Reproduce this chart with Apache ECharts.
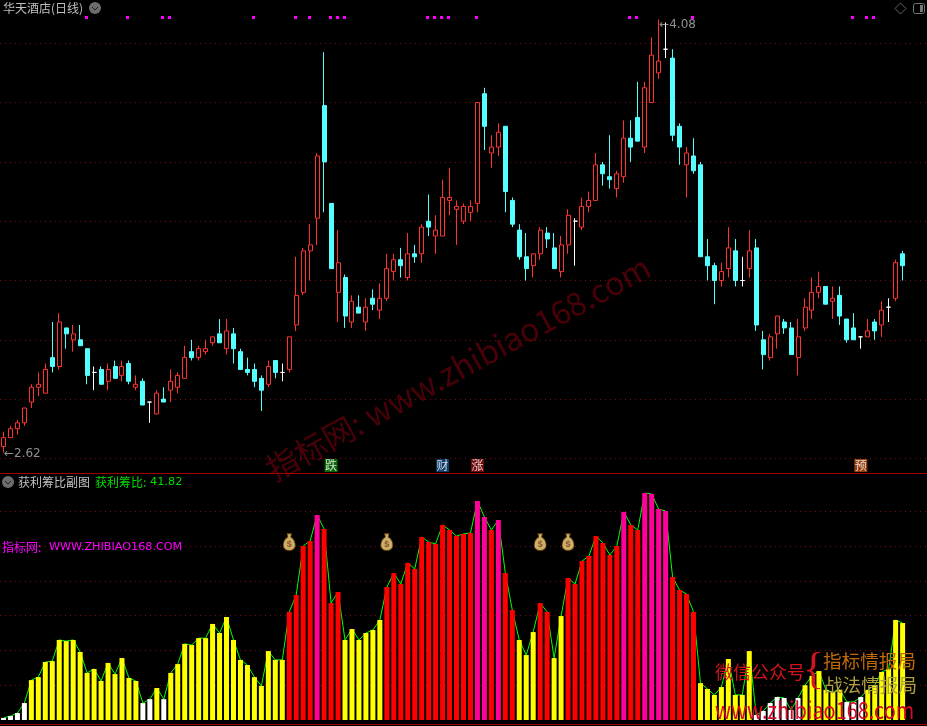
<!DOCTYPE html>
<html>
<head>
<meta charset="utf-8">
<title>华天酒店(日线)</title>
<script src="https://cdn.jsdelivr.net/npm/echarts@6/dist/echarts.min.js"></script>
<style>
    html, body {margin: 0; padding: 0; background: #000;}
    #chart {width: 927px; height: 726px;}
</style>
</head>
<body>
<div id="chart"></div>
<script>
// open, close, low, high
var candles = [
    [2.64,2.67,2.62,2.69],[2.67,2.70,2.67,2.71],[2.70,2.72,2.68,2.73],[2.72,2.77,2.71,2.77],[2.79,2.84,2.77,2.85],
    [2.84,2.85,2.81,2.89],[2.82,2.90,2.82,2.92],[2.94,2.91,2.89,3.06],[2.91,3.06,2.90,3.09],[3.04,3.02,2.97,3.04],
    [3.00,3.02,2.96,3.05],[3.00,2.98,2.98,3.05],[2.97,2.88,2.85,2.97],[2.89,2.89,2.83,2.91],[2.90,2.85,2.85,2.91],
    [2.86,2.90,2.83,2.92],[2.91,2.87,2.87,2.93],[2.88,2.91,2.86,2.93],[2.92,2.86,2.85,2.93],[2.84,2.85,2.83,2.88],
    [2.86,2.78,2.78,2.87],[2.79,2.79,2.72,2.79],[2.75,2.82,2.75,2.83],[2.80,2.79,2.79,2.84],[2.83,2.86,2.79,2.90],
    [2.84,2.88,2.82,2.89],[2.87,2.94,2.87,2.98],[2.96,2.94,2.93,3.00],[2.94,2.97,2.93,2.98],[2.96,2.97,2.95,3.00],
    [2.99,3.01,2.98,3.01],[3.02,2.99,2.99,3.07],[2.97,3.03,2.95,3.07],[3.02,2.97,2.92,3.04],[2.96,2.90,2.90,2.97],
    [2.90,2.89,2.88,2.94],[2.90,2.86,2.84,2.92],[2.87,2.83,2.76,2.88],[2.85,2.91,2.84,2.93],[2.93,2.89,2.87,2.93],
    [2.89,2.89,2.86,2.92],[2.90,3.01,2.89,3.01],[3.05,3.15,3.03,3.28],[3.16,3.30,3.15,3.31],[3.30,3.32,3.20,3.39],
    [3.41,3.62,3.32,3.63],[3.79,3.60,3.43,3.97],[3.46,3.24,3.24,3.46],[3.16,3.26,3.06,3.37],[3.21,3.08,3.04,3.22],
    [3.06,3.13,3.04,3.15],[3.11,3.09,3.09,3.15],[3.06,3.11,3.03,3.14],[3.14,3.12,3.10,3.17],[3.10,3.14,3.07,3.19],
    [3.14,3.24,3.13,3.29],[3.23,3.27,3.20,3.29],[3.27,3.25,3.21,3.31],[3.21,3.29,3.20,3.36],[3.29,3.28,3.26,3.32],
    [3.29,3.38,3.26,3.39],[3.40,3.38,3.35,3.49],[3.35,3.37,3.29,3.42],[3.35,3.48,3.35,3.54],[3.47,3.48,3.42,3.58],
    [3.44,3.45,3.32,3.47],[3.40,3.45,3.39,3.46],[3.43,3.45,3.40,3.47],[3.46,3.80,3.43,3.80],[3.83,3.72,3.64,3.85],
    [3.63,3.65,3.58,3.69],[3.65,3.70,3.62,3.73],[3.72,3.50,3.43,3.72],[3.47,3.39,3.38,3.48],[3.37,3.28,3.27,3.39],
    [3.28,3.24,3.20,3.36],[3.25,3.29,3.21,3.29],[3.29,3.37,3.27,3.38],[3.36,3.34,3.31,3.38],[3.31,3.24,3.24,3.36],
    [3.23,3.32,3.21,3.35],[3.32,3.42,3.29,3.44],[3.40,3.40,3.25,3.41],[3.38,3.45,3.37,3.48],[3.45,3.47,3.43,3.50],
    [3.47,3.59,3.47,3.63],[3.59,3.56,3.52,3.60],[3.55,3.54,3.51,3.69],[3.51,3.56,3.48,3.57],[3.55,3.68,3.53,3.74],
    [3.68,3.65,3.60,3.74],[3.75,3.67,3.67,3.87],[3.65,3.85,3.63,3.87],[3.80,3.96,3.80,4.02],[3.90,3.94,3.88,4.08],
    [3.98,3.98,3.95,4.07],[3.95,3.69,3.67,3.98],[3.72,3.65,3.59,3.73],[3.59,3.63,3.48,3.65],[3.62,3.57,3.56,3.68],
    [3.59,3.28,3.28,3.60],[3.28,3.25,3.20,3.34],[3.25,3.20,3.12,3.26],[3.20,3.23,3.18,3.26],[3.24,3.31,3.21,3.38],
    [3.30,3.20,3.18,3.34],[3.20,3.20,3.18,3.28],[3.24,3.30,3.21,3.37],[3.31,3.05,3.03,3.34],[3.00,2.95,2.90,3.03],
    [2.94,3.01,2.93,3.02],[3.02,3.08,2.97,3.08],[3.06,3.04,3.02,3.07],[3.04,2.95,2.95,3.06],[2.94,3.01,2.88,3.07],
    [3.04,3.11,3.03,3.14],[3.10,3.16,3.07,3.21],[3.16,3.18,3.14,3.23],[3.18,3.12,3.12,3.18],[3.13,3.14,3.07,3.18],
    [3.15,3.08,3.05,3.18],[3.07,3.00,2.99,3.07],[3.04,3.00,3.00,3.09],[3.01,3.01,2.97,3.01],[3.01,3.03,3.01,3.07],
    [3.06,3.03,3.00,3.07],[3.05,3.10,3.01,3.13],[3.11,3.11,3.06,3.14],[3.14,3.26,3.13,3.27],[3.29,3.25,3.20,3.30]
];
var profitRatio = [
    0.9,1.7,3.0,7.3,17.2,18.5,25.0,25.4,34.5,34.0,
    34.5,29.3,20.3,22.0,16.8,24.6,19.8,26.7,18.1,16.8,
    7.3,9.0,13.8,9.0,20.3,24.1,32.8,32.3,35.3,35.3,
    41.4,37.5,44.4,34.5,25.9,23.7,18.5,14.7,29.7,25.9,
    25.9,46.6,53.9,75.0,77.2,88.4,82.3,50.4,55.2,34.5,
    39.2,34.5,37.5,38.8,43.1,57.3,63.4,58.6,67.7,65.1,
    78.9,76.7,75.9,84.1,81.9,79.3,80.2,80.6,94.4,87.5,
    81.9,86.2,63.4,47.4,34.5,28.0,37.9,50.4,46.6,26.7,
    44.8,61.2,58.6,68.5,70.7,79.3,76.3,71.1,75.0,89.7,
    84.1,81.9,97.8,97.4,90.9,90.1,61.6,56.0,54.3,46.6,
    15.9,13.4,10.8,14.2,26.3,10.8,10.8,29.7,2.2,3.9,
    7.3,9.9,9.5,4.3,9.5,15.0,19.0,21.1,13.0,12.0,
    13.0,7.8,7.8,9.9,13.0,15.0,20.7,22.0,43.1,41.82
];
var topDotIndex = [12,18,23,24,36,42,44,47,48,49,61,62,63,64,68,90,91,99,122,124,125];
var topDotPrice = 4.088;
var signalIndex = [47,63,68,123];
var signalText = ['跌','财','涨','预'];
var signalColor = ['#0a800a','#124a80','#8c0c0c','#b84c12'];
var signalPrice = 2.576;
var bagIndex = [41,55,77,81];
var bagLevel = 76.7;
var extremeIndex = [94,0];
var extremePrice = [4.08,2.62];
var priceTicks = {min: 2.4, max: 4.146, interval: 0.2};
var ratioTicks = {min: 0, max: 105, interval: 15};

var bandCount = 133;
var categories = [];
for (var i = 0; i < bandCount; i++) {
    categories.push(String(i));
}

function barColor(v) {
    if (v < 10) return '#ffffff';
    if (v < 45) return '#ffff00';
    if (v < 85) return '#ff0000';
    return '#ff0099';
}

var gridDots = {color: '#7d0b0b', type: [1, 4], width: 1};
var cjk = '"Noto Sans CJK SC", sans-serif';
var bagPath = 'path://M5 0 L11 0 L10 4 C14 6 16 10 16 14 C16 18 12 20 8 20 C4 20 0 18 0 14 C0 10 2 6 6 4 Z';

function chevron(cx, cy) {
    return [
        {type: 'circle', shape: {cx: cx, cy: cy, r: 6}, style: {fill: '#6c6c6c'}, z: 20},
        {type: 'polyline', shape: {points: [[cx - 3, cy - 1], [cx, cy + 2], [cx + 3, cy - 1]]}, style: {stroke: '#222', fill: null, lineWidth: 1}, z: 21}
    ];
}

function label(text, x, y, color, font, extra) {
    var el = {type: 'text', x: x, y: y, style: {text: text, fill: color, font: font, textVerticalAlign: 'middle'}, z: 30};
    for (var k in extra) el[k] = extra[k];
    return el;
}

// square signal dots snapped to whole pixels so they stay pure magenta
function renderTopDot(params, api) {
    var pt = api.coord([api.value(0), api.value(1)]);
    return {
        type: 'rect',
        shape: {x: Math.floor(pt[0] - 2), y: Math.round(pt[1] - 1.5), width: 3, height: 3},
        style: {fill: '#ff00ff'}
    };
}

var chart = echarts.init(document.getElementById('chart'));
chart.setOption({
    animation: false,
    backgroundColor: '#000',
    grid: [
        {left: 0, top: 0, width: 928, height: 517.7},
        {left: 0, top: 476.4, width: 928, height: 243.6}
    ],
    xAxis: [
        {type: 'category', gridIndex: 0, data: categories, boundaryGap: true, axisLine: {show: false}, axisTick: {show: false}, axisLabel: {show: false}, splitLine: {show: false}},
        {type: 'category', gridIndex: 1, data: categories, boundaryGap: true, axisLine: {show: false}, axisTick: {show: false}, axisLabel: {show: false}, splitLine: {show: false}}
    ],
    yAxis: [
        {type: 'value', gridIndex: 0, min: priceTicks.min, max: priceTicks.max, interval: priceTicks.interval, axisLine: {show: false}, axisTick: {show: false}, axisLabel: {show: false},
            splitLine: {show: true, showMinLine: false, showMaxLine: false, lineStyle: gridDots}},
        {type: 'value', gridIndex: 1, min: ratioTicks.min, max: ratioTicks.max, interval: ratioTicks.interval, axisLine: {show: false}, axisTick: {show: false}, axisLabel: {show: false},
            splitLine: {show: true, showMinLine: false, showMaxLine: false, lineStyle: gridDots}}
    ],
    series: [
        {
            // 4.5 keeps every body 5px wide after the pixel snapping
            type: 'candlestick', xAxisIndex: 0, yAxisIndex: 0, data: candles, barWidth: 4.5, clip: false, z: 3,
            itemStyle: {color: '#000', color0: '#54ffff', borderColor: '#ff3232', borderColor0: '#54ffff', borderColorDoji: '#ffffff', borderWidth: 1}
        },
        {
            type: 'scatter', xAxisIndex: 0, yAxisIndex: 0, symbolSize: 1, z: 4,
            itemStyle: {color: 'transparent'},
            label: {show: true, position: 'right', distance: 0, color: '#b4b4b4', fontSize: 12, fontFamily: 'DejaVu Sans', formatter: function (p) { return '←' + p.value[1].toFixed(2); }},
            data: extremeIndex.map(function (i, k) {
                return {value: [categories[i], extremePrice[k]], label: {offset: [0, k == 0 ? 5 : 1]}};
            })
        },
        {
            type: 'custom', xAxisIndex: 0, yAxisIndex: 0, z: 4, renderItem: renderTopDot,
            encode: {x: 0, y: 1},
            data: topDotIndex.map(function (i) { return [i, topDotPrice]; })
        },
        {
            type: 'scatter', xAxisIndex: 0, yAxisIndex: 0, symbol: 'rect', symbolSize: 13, z: 4, clip: false,
            data: signalIndex.map(function (i, k) {
                return {
                    value: [categories[i], signalPrice],
                    itemStyle: {color: signalColor[k]},
                    label: {show: true, position: 'inside', formatter: signalText[k], color: '#fff', fontSize: 12, fontFamily: cjk}
                };
            })
        },
        {
            type: 'line', xAxisIndex: 1, yAxisIndex: 1, data: profitRatio, symbol: 'none', z: 2,
            lineStyle: {color: '#00ff00', width: 1}
        },
        {
            type: 'bar', xAxisIndex: 1, yAxisIndex: 1, barWidth: 5, z: 3,
            data: profitRatio.map(function (v) { return {value: v, itemStyle: {color: barColor(v)}}; })
        },
        {
            type: 'scatter', xAxisIndex: 1, yAxisIndex: 1, symbol: bagPath, symbolSize: [12, 17], z: 5,
            itemStyle: {color: '#ffdc82', borderColor: '#5a3808', borderWidth: 1},
            label: {show: true, position: 'inside', formatter: '$', color: '#7a3a20', fontSize: 9, fontWeight: 'bold', offset: [0, 2]},
            data: bagIndex.map(function (i) { return [categories[i], bagLevel]; })
        }
    ],
    graphic: [
        {type: 'text', x: 458, y: 368, rotation: 0.5, z: 0, style: {text: '指标网: www.zhibiao168.com', fill: '#4a0008', font: '32px ' + cjk, textAlign: 'center', textVerticalAlign: 'middle'}},
        {type: 'line', shape: {x1: 0, y1: 473.5, x2: 927, y2: 473.5}, style: {stroke: '#a00000', lineWidth: 1}, z: 1},
        {type: 'line', shape: {x1: 0, y1: 724.5, x2: 927, y2: 724.5}, style: {stroke: '#a00000', lineWidth: 1}, z: 1},
        label('华天酒店(日线)', 3, 8, '#c0c0c0', '12px ' + cjk),
        label('获利筹比副图', 18, 482, '#c0c0c0', '12px ' + cjk),
        label('获利筹比:', 95, 482, '#00dd00', '12px ' + cjk),
        label('41.82', 150, 482, '#00dd00', '11.3px DejaVu Sans'),
        label('指标网:', 2, 547, '#ff00ff', '12px ' + cjk),
        label('WWW.ZHIBIAO168.COM', 49, 547, '#ff00ff', '11.2px DejaVu Sans'),
        label('微信公众号', 715, 672, '#d4141e', '18px ' + cjk),
        label('{', 803, 671, '#d4141e', '44px Liberation Serif'),
        label('指标情报局', 823, 661, '#c06a0a', '18.6px ' + cjk),
        label('战法情报局', 824, 685, '#b0a040', '18.6px ' + cjk),
        label('www.zhibiao168.com', 715, 710, '#d40a28', '24px ' + cjk, {scaleX: 0.83}),
        {type: 'polygon', shape: {points: [[900.5, 3], [906, 8.5], [900.5, 14], [895, 8.5]]}, style: {stroke: '#666', fill: null, lineWidth: 1}, z: 20},
        {type: 'rect', shape: {x: 913.5, y: 3.5, width: 11, height: 10, r: 2}, style: {stroke: '#777', fill: null, lineWidth: 1}, z: 20},
        {type: 'rect', shape: {x: 920, y: 5, width: 3, height: 7}, style: {fill: '#777'}, z: 20}
    ].concat(chevron(95, 8), chevron(8, 482))
});
</script>
</body>
</html>
